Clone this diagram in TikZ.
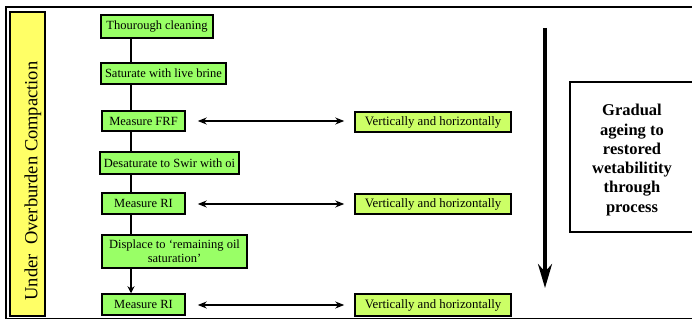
\documentclass[tikz,border=0pt]{standalone}
\usepackage{fontspec}
\setmainfont{Liberation Serif}
\usetikzlibrary{arrows.meta}
\definecolor{stepgreen}{HTML}{99FF66}
\definecolor{sidegreen}{HTML}{CCFF66}
\definecolor{sideyellow}{HTML}{FFFF66}
\begin{document}
\begin{tikzpicture}[x=1pt,y=-1pt,
  stepbox/.style={draw=black,line width=1.5pt,fill=stepgreen,inner sep=0pt,font=\fontsize{12.5}{14}\selectfont,align=center},
  sidebox/.style={draw=black,line width=1.5pt,fill=sidegreen,inner sep=0pt,font=\fontsize{12.8}{14}\selectfont,minimum width=156pt},
  link/.style={line width=1.3pt},
  twoway/.style={line width=1.3pt,{Stealth[length=9pt,width=7pt]}-{Stealth[length=9pt,width=7pt]}}]
\useasboundingbox (0,0) rectangle (692,320);
% frame
\draw[line width=1.8pt] (692,7) -- (6,7) -- (6,318.5) -- (692,318.5);
% yellow side label
\node[draw=black,line width=2pt,fill=sideyellow,minimum width=35pt,minimum height=304pt,inner sep=0pt] (yl) at (27.5,164) {};
\node[rotate=90,font=\fontsize{18.5}{20}\selectfont] (ylt) at (33,181) {Under~~Overburden Compaction};
% steps
\node[stepbox,minimum width=112pt,minimum height=23pt] (a1) at (157,26.5) {Thourough cleaning};
\node[stepbox,minimum width=125pt,minimum height=21pt] (a2) at (163.5,73.5) {Saturate with live brine};
\node[stepbox,minimum width=83pt,minimum height=20pt] (a3) at (143.5,121) {Measure FRF};
\node[stepbox,minimum width=139pt,minimum height=22pt] (a4) at (169.5,163) {Desaturate to Swir with oi};
\node[stepbox,minimum width=83pt,minimum height=21pt] (a5) at (143.5,203.5) {Measure RI};
\node[stepbox,minimum width=145pt,minimum height=33pt] (a6) at (174.5,251.5) {Displace to ‘remaining oil\\saturation’};
\node[stepbox,minimum width=83pt,minimum height=21pt] (a7) at (143.5,304.5) {Measure RI};
\coordinate (sp) at (131,0);
\draw[link] (a1.south -| sp) -- (a2.north -| sp);
\draw[link] (a2.south -| sp) -- (a3.north -| sp);
\draw[link] (a3.south -| sp) -- (a4.north -| sp);
\draw[link] (a4.south -| sp) -- (a5.north -| sp);
\draw[link] (a5.south -| sp) -- (a6.north -| sp);
\draw[link,-{Stealth[length=7pt,width=7pt]}] (a6.south -| sp) -- (a7.north -| sp);
% side boxes
\node[sidebox,minimum height=20pt] (b1) at (433,122) {Vertically and horizontally};
\node[sidebox,minimum height=20pt] (b2) at (433,204) {Vertically and horizontally};
\node[sidebox,minimum height=22pt] (b3) at (433,305) {Vertically and horizontally};
\draw[twoway,shorten <=12pt,shorten >=10pt] (a3.east) -- (a3.east -| b1.west);
\draw[twoway,shorten <=12pt,shorten >=10pt] (a5.east |- b2.west) -- (b2.west);
\draw[twoway,shorten <=12pt,shorten >=10pt] (a7.east |- b3.west) -- (b3.west);
% big arrow
\coordinate (ts) at (545,28);
\coordinate (te) at (545,288);
\draw[line width=3.5pt,-{Stealth[length=24pt,width=14pt]}] (ts) -- (te);
% note box
\draw[line width=1.8pt] (700,82) -- (570,82) -- (570,232) -- (700,232);
\node[font=\bfseries\fontsize{16.5}{19.3}\selectfont,align=center] (nt) at (632,160) {Gradual\\ageing to\\restored\\wetabilitity\\through\\process};
\end{tikzpicture}
\end{document}
